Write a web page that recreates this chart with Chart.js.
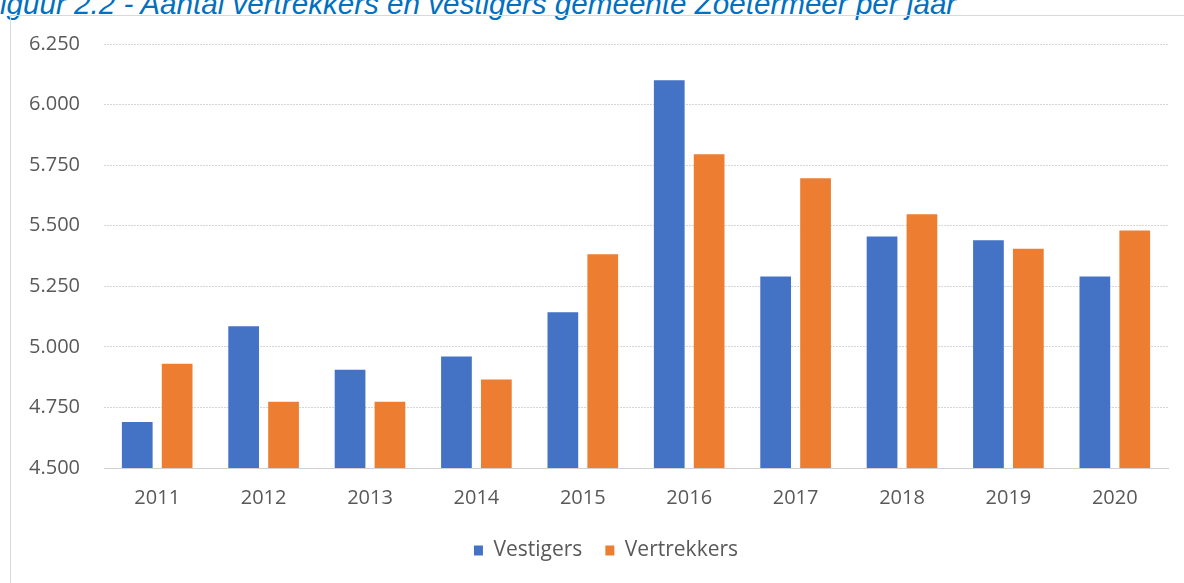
<!DOCTYPE html>
<html>
<head>
<meta charset="utf-8">
<script src="https://cdn.jsdelivr.net/npm/chart.js@4.4.1/dist/chart.umd.min.js"></script>
<style>
  html, body { margin: 0; padding: 0; background: #fff; }
  body { width: 1184px; height: 583px; position: relative; overflow: hidden; }
  .titel {
    position: absolute; left: 0; top: -13px;
    font-family: "Liberation Sans", Arial, sans-serif;
    font-style: italic; font-size: 29.6px; color: #0070c0;
    white-space: nowrap;
  }
  .kader {
    position: absolute; left: 10px; top: 15px; width: 1200px; height: 600px;
    border: 1px solid #d9d9d9;
  }
  .grafiek { position: absolute; left: 0; top: 0; width: 1184px; height: 583px; }
</style>
</head>
<body>
<div class="titel">iguur 2.2 - Aantal vertrekkers en vestigers gemeente Zoetermeer per jaar</div>
<div class="kader"></div>
<div class="grafiek"><canvas id="grafiek"></canvas></div>
<script>
const jaren = ['2011', '2012', '2013', '2014', '2015', '2016', '2017', '2018', '2019', '2020'];
const vestigers = [4690, 5085, 4905, 4960, 5143, 6100, 5290, 5455, 5440, 5290];
const vertrekkers = [4930, 4773, 4773, 4865, 5382, 5795, 5696, 5547, 5405, 5480];
const yMin = 4500;
const yMax = 6250;
const yStap = 250;

const tekstKleur = '#595959';
const lettertype = "'Open Sans', sans-serif";

// legenda iets naar rechts, zoals in het origineel
const legendaVerschuiving = {
    id: 'legendaVerschuiving',
    afterLayout(chart) {
        chart.legend.left += 22;
        chart.legend.right += 22;
    },
};

const ctx = document.getElementById('grafiek').getContext('2d');
new Chart(ctx, {
    type: 'bar',
    data: {
        labels: jaren,
        datasets: [
            {
                label: 'Vestigers',
                data: vestigers,
                backgroundColor: '#4472c4',
                barPercentage: 0.77,
                categoryPercentage: 0.75,
            },
            {
                label: 'Vertrekkers',
                data: vertrekkers,
                backgroundColor: '#ed7d31',
                barPercentage: 0.77,
                categoryPercentage: 0.75,
            },
        ],
    },
    plugins: [legendaVerschuiving],
    options: {
        responsive: true,
        maintainAspectRatio: false,
        animation: false,
        layout: { padding: { top: 44, right: 16, bottom: 12, left: 0 } },
        plugins: {
            legend: {
                position: 'bottom',
                labels: {
                    color: tekstKleur,
                    font: { family: lettertype, size: 21 },
                    boxWidth: 9,
                    boxHeight: 10,
                    padding: 23,
                },
            },
            tooltip: { enabled: false },
        },
        scales: {
            x: {
                grid: { display: false },
                border: { display: true, color: '#d0d0d0' },
                ticks: {
                    color: tekstKleur,
                    font: { family: lettertype, size: 20 },
                    padding: 10,
                },
                afterFit: (schaal) => { schaal.height = 49; },
            },
            y: {
                min: yMin,
                max: yMax,
                ticks: {
                    stepSize: yStap,
                    color: tekstKleur,
                    font: { family: lettertype, size: 20 },
                    padding: 24,
                    callback: (waarde) => waarde.toLocaleString('nl-NL', { minimumFractionDigits: 0 }),
                },
                grid: { color: '#d6d6d6', drawTicks: false },
                border: { display: false, dash: [2, 1] },
                afterFit: (schaal) => { schaal.width = 104; },
            },
        },
    },
});
</script>
</body>
</html>
